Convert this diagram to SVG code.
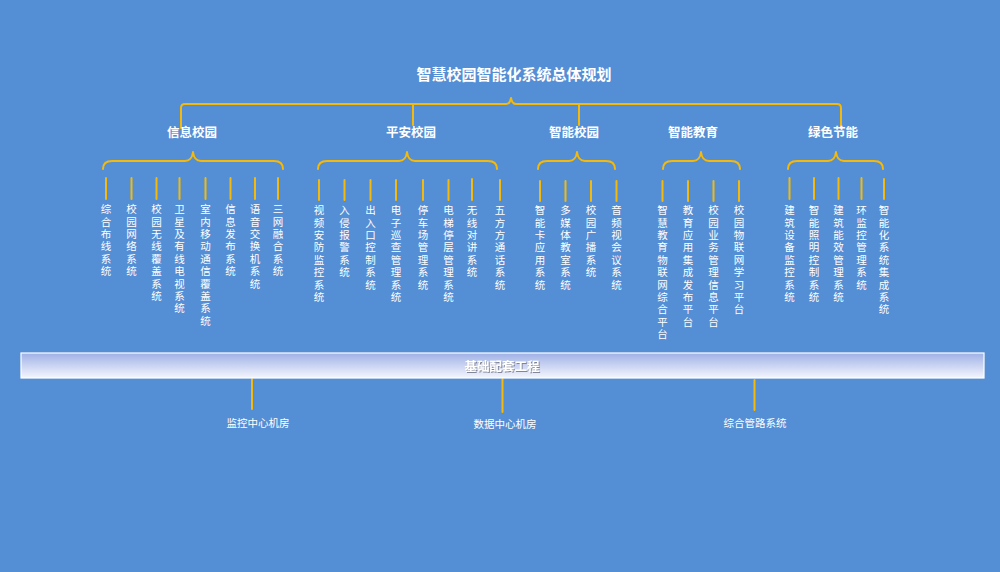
<svg xmlns="http://www.w3.org/2000/svg" width="1000" height="572" viewBox="0 0 1000 572">
<defs>
<linearGradient id="barg" x1="0" y1="0" x2="0" y2="1">
<stop offset="0" stop-color="#9fb0e6"/>
<stop offset="1" stop-color="#f4f6fd"/>
</linearGradient>
<filter id="sh" x="-10%" y="-50%" width="120%" height="200%">
<feDropShadow dx="1" dy="1" stdDeviation="0.6" flood-color="#6a6f80" flood-opacity="0.8"/>
</filter>
</defs>
<style>
.bg{fill:#548ed5}
.ln{stroke:#f4b90a;stroke-width:2;fill:none;stroke-linecap:round;stroke-linejoin:round}
.title{font-family:"Noto Sans CJK SC","Noto Sans",sans-serif;font-size:15px;font-weight:bold;fill:#fff;text-anchor:middle}
.cat{font-family:"Noto Sans CJK SC","Noto Sans",sans-serif;font-size:12.5px;font-weight:bold;fill:#fff;text-anchor:middle}
.v{font-family:"Noto Sans CJK SC","Noto Sans",sans-serif;font-size:10.5px;fill:#fff;writing-mode:vertical-rl;letter-spacing:1.9px}
.bt{font-family:"Noto Sans CJK SC","Noto Sans",sans-serif;font-size:10.5px;fill:#fff;text-anchor:middle}
.bar{fill:url(#barg);stroke:#ffffff;stroke-width:1.2}
.bartxt{font-family:"Noto Sans CJK SC","Noto Sans",sans-serif;font-size:12.5px;font-weight:bold;fill:#fff;text-anchor:middle}
</style>
<rect class="bg" x="0" y="0" width="1000" height="572"/>

<g id="connectors">
<!-- top brace -->
<path class="ln" d="M181,128 L181,108 Q181,104 185,104 L506,104 Q510,104 511,98 Q512,104 516,104 L837,104 Q841,104 841,108 L841,128"/>
<line class="ln" x1="413" y1="104" x2="413" y2="125"/>
<line class="ln" x1="579" y1="104" x2="579" y2="125"/>
<!-- group braces -->
<path class="ln" d="M103,169 Q103,161 112,161 L185,161 Q192,161 193,152 Q194,161 201,161 L274,161 Q283,161 283,169"/>
<path class="ln" d="M318,169 Q318,161 327,161 L399,161 Q406,161 407,152 Q408,161 415,161 L488,161 Q497,161 497,169"/>
<path class="ln" d="M538,169 Q538,161 547,161 L569,161 Q576,161 577,152 Q578,161 585,161 L606,161 Q615,161 615,169"/>
<path class="ln" d="M663,169 Q663,161 672,161 L693,161 Q700,161 701,152 Q702,161 709,161 L731,161 Q740,161 740,169"/>
<path class="ln" d="M788,169 Q788,161 797,161 L828,161 Q835,161 836,152 Q837,161 844,161 L874,161 Q883,161 883,169"/>
<!-- leaf ticks group1 -->
<g>
<line class="ln" x1="106" y1="178" x2="106" y2="199"/>
<line class="ln" x1="131.5" y1="178" x2="131.5" y2="199"/>
<line class="ln" x1="156.5" y1="178" x2="156.5" y2="199"/>
<line class="ln" x1="179.5" y1="178" x2="179.5" y2="199"/>
<line class="ln" x1="205.5" y1="178" x2="205.5" y2="199"/>
<line class="ln" x1="230.5" y1="178" x2="230.5" y2="199"/>
<line class="ln" x1="255" y1="178" x2="255" y2="199"/>
<line class="ln" x1="278" y1="178" x2="278" y2="199"/>
</g>
<g>
<line class="ln" x1="319" y1="180" x2="319" y2="200"/>
<line class="ln" x1="344.5" y1="180" x2="344.5" y2="200"/>
<line class="ln" x1="370.5" y1="180" x2="370.5" y2="200"/>
<line class="ln" x1="396" y1="180" x2="396" y2="200"/>
<line class="ln" x1="423" y1="180" x2="423" y2="200"/>
<line class="ln" x1="448.5" y1="180" x2="448.5" y2="200"/>
<line class="ln" x1="472" y1="179" x2="472" y2="200"/>
<line class="ln" x1="500" y1="180" x2="500" y2="200"/>
</g>
<g>
<line class="ln" x1="540" y1="181" x2="540" y2="201"/>
<line class="ln" x1="565.5" y1="181" x2="565.5" y2="201"/>
<line class="ln" x1="591" y1="181" x2="591" y2="201"/>
<line class="ln" x1="616.5" y1="181" x2="616.5" y2="201"/>
</g>
<g>
<line class="ln" x1="662.5" y1="181" x2="662.5" y2="201"/>
<line class="ln" x1="688" y1="181" x2="688" y2="201"/>
<line class="ln" x1="713.5" y1="181" x2="713.5" y2="201"/>
<line class="ln" x1="739" y1="181" x2="739" y2="201"/>
</g>
<g>
<line class="ln" x1="789.5" y1="178" x2="789.5" y2="199"/>
<line class="ln" x1="814" y1="178" x2="814" y2="199"/>
<line class="ln" x1="838.5" y1="178" x2="838.5" y2="199"/>
<line class="ln" x1="861.5" y1="178" x2="861.5" y2="199"/>
<line class="ln" x1="884" y1="179" x2="884" y2="199"/>
</g>
<!-- bottom -->
<line class="ln" x1="252" y1="379" x2="252" y2="409"/>
<line class="ln" x1="502.5" y1="379" x2="502.5" y2="412"/>
<line class="ln" x1="754.5" y1="380" x2="754.5" y2="410"/>
</g>

<g id="title"><text class="title" x="514" y="80">智慧校园智能化系统总体规划</text></g>

<g id="cat-xinxi"><text class="cat" x="192" y="137">信息校园</text></g>
<g id="cat-pingan"><text class="cat" x="411" y="137">平安校园</text></g>
<g id="cat-zhineng"><text class="cat" x="574" y="137">智能校园</text></g>
<g id="cat-jiaoyu"><text class="cat" x="693" y="137">智能教育</text></g>
<g id="cat-lvse"><text class="cat" x="833" y="137">绿色节能</text></g>

<g id="leaves-xinxi">
<text class="v" x="106" y="204">综合布线系统</text>
<text class="v" x="131.5" y="204">校园网络系统</text>
<text class="v" x="156.5" y="204">校园无线覆盖系统</text>
<text class="v" x="179.5" y="204">卫星及有线电视系统</text>
<text class="v" x="205.5" y="204">室内移动通信覆盖系统</text>
<text class="v" x="230.5" y="204">信息发布系统</text>
<text class="v" x="255" y="204">语音交换机系统</text>
<text class="v" x="278" y="204">三网融合系统</text>
</g>
<g id="leaves-pingan">
<text class="v" x="319" y="205">视频安防监控系统</text>
<text class="v" x="344.5" y="205">入侵报警系统</text>
<text class="v" x="370.5" y="205">出入口控制系统</text>
<text class="v" x="396" y="205">电子巡查管理系统</text>
<text class="v" x="423" y="205">停车场管理系统</text>
<text class="v" x="448.5" y="205">电梯停层管理系统</text>
<text class="v" x="472" y="205">无线对讲系统</text>
<text class="v" x="500" y="205">五方方通话系统</text>
</g>
<g id="leaves-zhineng">
<text class="v" x="540" y="205">智能卡应用系统</text>
<text class="v" x="565.5" y="205">多媒体教室系统</text>
<text class="v" x="591" y="205">校园广播系统</text>
<text class="v" x="616.5" y="205">音频视会议系统</text>
</g>
<g id="leaves-jiaoyu">
<text class="v" x="662.5" y="205">智慧教育物联网综合平台</text>
<text class="v" x="688" y="205">教育应用集成发布平台</text>
<text class="v" x="713.5" y="205">校园业务管理信息平台</text>
<text class="v" x="739" y="205">校园物联网学习平台</text>
</g>
<g id="leaves-lvse">
<text class="v" x="789.5" y="205">建筑设备监控系统</text>
<text class="v" x="814" y="205">智能照明控制系统</text>
<text class="v" x="838.5" y="205">建筑能效管理系统</text>
<text class="v" x="861.5" y="205">环监控管理系统</text>
<text class="v" x="884" y="205">智能化系统集成系统</text>
</g>

<g id="base">
<rect class="bar" x="21" y="353" width="963" height="25"/>
<text class="bartxt" x="502" y="370.5" filter="url(#sh)">基础配套工程</text>
</g>
<g id="base-jiankong"><text class="bt" x="258" y="427">监控中心机房</text></g>
<g id="base-shuju"><text class="bt" x="505" y="428">数据中心机房</text></g>
<g id="base-guanlu"><text class="bt" x="755" y="427">综合管路系统</text></g>
</svg>
